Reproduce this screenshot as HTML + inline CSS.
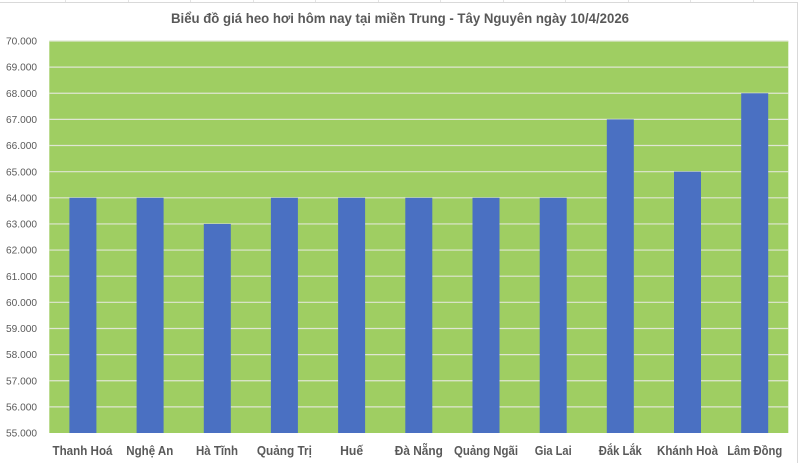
<!DOCTYPE html>
<html><head><meta charset="utf-8"><style>
html,body{margin:0;padding:0;background:#fff;}
svg{display:block;}
</style></head><body>
<svg width="800" height="463" viewBox="0 0 800 463" xmlns="http://www.w3.org/2000/svg">
<rect x="0" y="0" width="800" height="463" fill="#fff"/>
<!-- spreadsheet remnants -->
<g stroke="#e3e3e3" stroke-width="1">
<line x1="65.5" y1="0" x2="65.5" y2="2"/><line x1="128.5" y1="0" x2="128.5" y2="2"/><line x1="190.5" y1="0" x2="190.5" y2="2"/><line x1="253.5" y1="0" x2="253.5" y2="2"/><line x1="315.5" y1="0" x2="315.5" y2="2"/><line x1="378.5" y1="0" x2="378.5" y2="2"/><line x1="440.5" y1="0" x2="440.5" y2="2"/><line x1="503.5" y1="0" x2="503.5" y2="2"/><line x1="565.5" y1="0" x2="565.5" y2="2"/><line x1="628.5" y1="0" x2="628.5" y2="2"/><line x1="690.5" y1="0" x2="690.5" y2="2"/><line x1="753.5" y1="0" x2="753.5" y2="2"/>
</g>
<line x1="0" y1="2.5" x2="798" y2="2.5" stroke="#d9d9d9"/>
<line x1="797.5" y1="2" x2="797.5" y2="463" stroke="#d9d9d9"/>
<!-- title -->
<text x="400" y="23" text-anchor="middle" font-family="Liberation Sans, sans-serif" font-size="14" font-weight="bold" fill="#595959" textLength="458" lengthAdjust="spacingAndGlyphs">Biểu đồ giá heo hơi hôm nay tại miền Trung - Tây Nguyên ngày 10/4/2026</text>
<!-- plot area -->
<rect x="49.3" y="41" width="739" height="392" fill="#9fce62"/>
<g stroke="#dfe6d2" stroke-width="1.2">
<line x1="49.3" x2="788.3" y1="41" y2="41"/>
<line x1="49.3" x2="788.3" y1="67.13" y2="67.13"/>
<line x1="49.3" x2="788.3" y1="93.27" y2="93.27"/>
<line x1="49.3" x2="788.3" y1="119.4" y2="119.4"/>
<line x1="49.3" x2="788.3" y1="145.53" y2="145.53"/>
<line x1="49.3" x2="788.3" y1="171.67" y2="171.67"/>
<line x1="49.3" x2="788.3" y1="197.8" y2="197.8"/>
<line x1="49.3" x2="788.3" y1="223.93" y2="223.93"/>
<line x1="49.3" x2="788.3" y1="250.07" y2="250.07"/>
<line x1="49.3" x2="788.3" y1="276.2" y2="276.2"/>
<line x1="49.3" x2="788.3" y1="302.33" y2="302.33"/>
<line x1="49.3" x2="788.3" y1="328.47" y2="328.47"/>
<line x1="49.3" x2="788.3" y1="354.6" y2="354.6"/>
<line x1="49.3" x2="788.3" y1="380.73" y2="380.73"/>
<line x1="49.3" x2="788.3" y1="406.87" y2="406.87"/>
</g>
<!-- bars -->
<g fill="#4a70c2">
<rect x="69.4" y="197.8" width="27" height="235.2"/>
<rect x="136.6" y="197.8" width="27" height="235.2"/>
<rect x="203.8" y="223.93" width="27" height="209.07"/>
<rect x="270.9" y="197.8" width="27" height="235.2"/>
<rect x="338.1" y="197.8" width="27" height="235.2"/>
<rect x="405.3" y="197.8" width="27" height="235.2"/>
<rect x="472.5" y="197.8" width="27" height="235.2"/>
<rect x="539.7" y="197.8" width="27" height="235.2"/>
<rect x="606.8" y="119.4" width="27" height="313.6"/>
<rect x="674.0" y="171.67" width="27" height="261.33"/>
<rect x="741.2" y="93.27" width="27" height="339.73"/>
</g>
<!-- y labels -->
<g font-family="Liberation Sans, sans-serif" font-size="10.5" fill="#595959" text-anchor="end">
<text x="37" y="44.6" textLength="31" lengthAdjust="spacingAndGlyphs">70.000</text>
<text x="37" y="70.7" textLength="31" lengthAdjust="spacingAndGlyphs">69.000</text>
<text x="37" y="96.9" textLength="31" lengthAdjust="spacingAndGlyphs">68.000</text>
<text x="37" y="123" textLength="31" lengthAdjust="spacingAndGlyphs">67.000</text>
<text x="37" y="149.1" textLength="31" lengthAdjust="spacingAndGlyphs">66.000</text>
<text x="37" y="175.3" textLength="31" lengthAdjust="spacingAndGlyphs">65.000</text>
<text x="37" y="201.4" textLength="31" lengthAdjust="spacingAndGlyphs">64.000</text>
<text x="37" y="227.5" textLength="31" lengthAdjust="spacingAndGlyphs">63.000</text>
<text x="37" y="253.7" textLength="31" lengthAdjust="spacingAndGlyphs">62.000</text>
<text x="37" y="279.8" textLength="31" lengthAdjust="spacingAndGlyphs">61.000</text>
<text x="37" y="305.9" textLength="31" lengthAdjust="spacingAndGlyphs">60.000</text>
<text x="37" y="332.1" textLength="31" lengthAdjust="spacingAndGlyphs">59.000</text>
<text x="37" y="358.2" textLength="31" lengthAdjust="spacingAndGlyphs">58.000</text>
<text x="37" y="384.3" textLength="31" lengthAdjust="spacingAndGlyphs">57.000</text>
<text x="37" y="410.5" textLength="31" lengthAdjust="spacingAndGlyphs">56.000</text>
<text x="37" y="436.6" textLength="31" lengthAdjust="spacingAndGlyphs">55.000</text>
</g>
<!-- x labels -->
<g font-family="Liberation Sans, sans-serif" font-size="12.5" font-weight="bold" fill="#595959" text-anchor="middle">
<text x="82.5" y="455" textLength="60" lengthAdjust="spacingAndGlyphs">Thanh Hoá</text>
<text x="149.8" y="455" textLength="47" lengthAdjust="spacingAndGlyphs">Nghệ An</text>
<text x="217" y="455" textLength="42" lengthAdjust="spacingAndGlyphs">Hà Tĩnh</text>
<text x="284.4" y="455" textLength="55" lengthAdjust="spacingAndGlyphs">Quảng Trị</text>
<text x="351.6" y="455" textLength="23" lengthAdjust="spacingAndGlyphs">Huế</text>
<text x="418.8" y="455" textLength="48" lengthAdjust="spacingAndGlyphs">Đà Nẵng</text>
<text x="486" y="455" textLength="64" lengthAdjust="spacingAndGlyphs">Quảng Ngãi</text>
<text x="553.2" y="455" textLength="37" lengthAdjust="spacingAndGlyphs">Gia Lai</text>
<text x="620.3" y="455" textLength="43" lengthAdjust="spacingAndGlyphs">Đắk Lắk</text>
<text x="687.5" y="455" textLength="61" lengthAdjust="spacingAndGlyphs">Khánh Hoà</text>
<text x="754.7" y="455" textLength="55" lengthAdjust="spacingAndGlyphs">Lâm Đồng</text>
</g>
</svg>
</body></html>
